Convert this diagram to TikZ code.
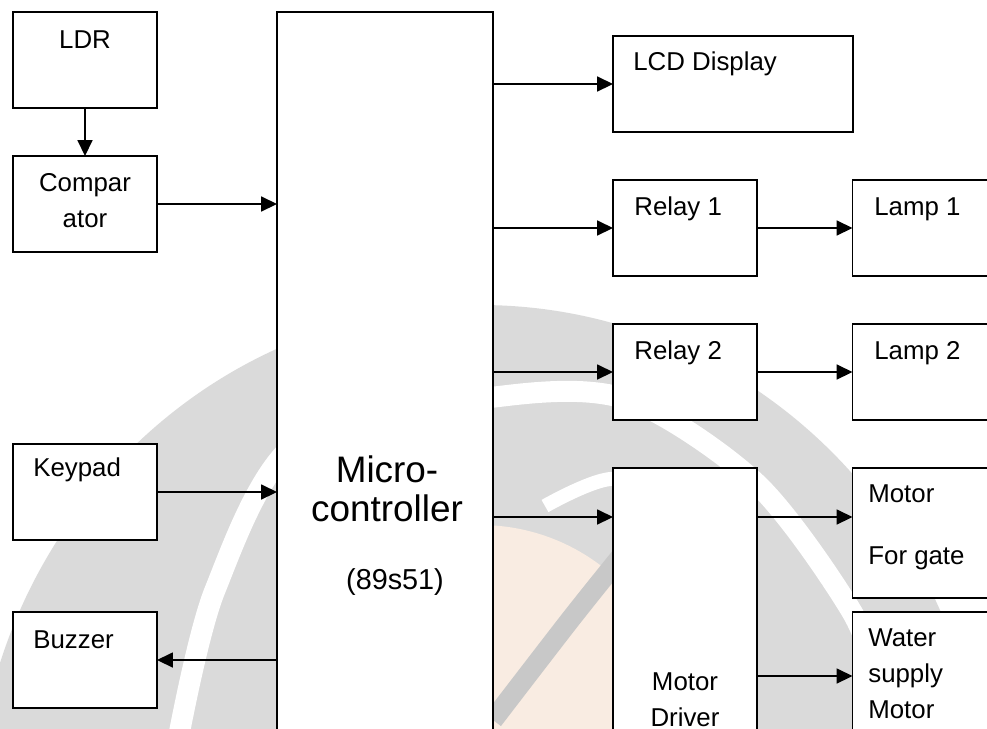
\documentclass[tikz,border=0pt]{standalone}
\usepackage{fontspec}
\setmainfont{Liberation Sans}
\usepackage{xcolor}
\definecolor{wmgray}{RGB}{218,218,218}
\definecolor{wmdark}{RGB}{200,200,200}
\definecolor{wmorange}{RGB}{249,236,226}
\usetikzlibrary{arrows.meta, positioning}

\tikzset{
  box/.style={draw, line width=1.1pt, fill=white, inner sep=0pt, outer sep=0pt},
  lbl/.style={font=\fontsize{14.7}{20.5}\selectfont, inner sep=0pt},
  conn/.style={-{Triangle[length=9pt,width=8.5pt]}, line width=0.8pt},
}

\begin{document}
\begin{tikzpicture}[x=0.02cm, y=-0.02cm]
      \useasboundingbox (0,0) rectangle (987,728);
      \clip (0,0) rectangle (987,728);

      % Watermark
      \fill[wmgray] (480,825) ellipse (505 and 520);
      \fill[wmorange] (480,725) circle (200);
      \draw[wmdark, line width=0.4cm] plot[smooth] coordinates {(622,555) (570,620) (493,720)};
      \draw[white, line width=0.42cm] plot[smooth] coordinates
            {(178,740) (215,590) (300,440) (503,396) (629,400) (757,484) (852,612) (885,700)};
      \draw[white, line width=0.28cm] plot[smooth] coordinates {(545,506) (610,479) (700,490)};

      % Left column
      \node[box, minimum width=2.88cm, minimum height=1.92cm] (ldr) at (85,60) {};
      \node[box, minimum width=2.88cm, minimum height=1.92cm] (comp) at (85,204) {};
      \node[box, minimum width=2.88cm, minimum height=1.92cm] (keypad) at (85,492) {};
      \node[box, minimum width=2.88cm, minimum height=1.92cm] (buzzer) at (85,660) {};

      % Microcontroller
      \node[box, minimum width=4.32cm, minimum height=15.36cm] (mc) at (385,396) {};

      % Right column
      \node[box, minimum width=4.8cm, minimum height=1.92cm] (lcd) at (733,84) {};
      \node[box, minimum width=2.88cm, minimum height=1.92cm] (relay1) at (685,228) {};
      \node[box, minimum width=2.88cm, minimum height=1.92cm] (relay2) at (685,372) {};
      \node[box, minimum width=2.88cm, minimum height=6.24cm] (drv) at (685,624) {};
      \node[box, minimum width=2.94cm, minimum height=1.92cm] (lamp1) at (926,228) {};
      \node[box, minimum width=2.94cm, minimum height=1.92cm] (lamp2) at (926,372) {};
      \node[box, minimum width=2.94cm, minimum height=2.6cm] (gate) at (926,533) {};
      \node[box, minimum width=2.94cm, minimum height=2.56cm] (water) at (926,676) {};

      % Labels
      \node[lbl] (ldr-t) at (85,40) {LDR};
      \node[lbl, align=center] (comp-t) at (85,201) {Compar\\ator};
      \node[lbl, anchor=west] (keypad-t) at (33,470) {Keypad};
      \node[lbl, anchor=west] (buzzer-t) at (33,640) {Buzzer};
      \node[lbl, align=center, font=\fontsize{21}{22.5}\selectfont] (mc-t) at (387,489) {Micro-\\controller};
      \node[lbl, font=\fontsize{16.4}{20}\selectfont] (mc-n) at (395,582) {(89s51)};
      \node[lbl, anchor=west] (lcd-t) at (633,64) {LCD Display};
      \node[lbl, anchor=west] (relay1-t) at (634,209) {Relay 1};
      \node[lbl, anchor=west] (relay2-t) at (634,353) {Relay 2};
      \node[lbl, anchor=west] (lamp1-t) at (874,209) {Lamp 1};
      \node[lbl, anchor=west] (lamp2-t) at (874,353) {Lamp 2};
      \node[lbl, align=center] (drv-t) at (685,700) {Motor\\Driver};
      \node[lbl, anchor=west, align=left] (gate-t) at (868,527) {Motor\\[14.6pt]For gate};
      \node[lbl, anchor=west, align=left] (water-t) at (868,674) {Water\\supply\\Motor};

      % Connectors
      \coordinate (mtr) at (0,517);
      \draw[conn] (ldr) -- (comp);
      \draw[conn] (comp) -- (mc.west |- comp);
      \draw[conn] (keypad) -- (mc.west |- keypad);
      \draw[conn] (mc.west |- buzzer) -- (buzzer);
      \draw[conn] (mc.east |- lcd) -- (lcd);
      \draw[conn] (mc.east |- relay1) -- (relay1);
      \draw[conn] (mc.east |- relay2) -- (relay2);
      \draw[conn] (relay1) -- (lamp1.west |- relay1);
      \draw[conn] (relay2) -- (lamp2.west |- relay2);
      \draw[conn] (mc.east |- mtr) -- (drv.west |- mtr);
      \draw[conn] (drv.east |- mtr) -- (gate.west |- mtr);
      \draw[conn] (drv.east |- water) -- (water);
\end{tikzpicture}
\end{document}
